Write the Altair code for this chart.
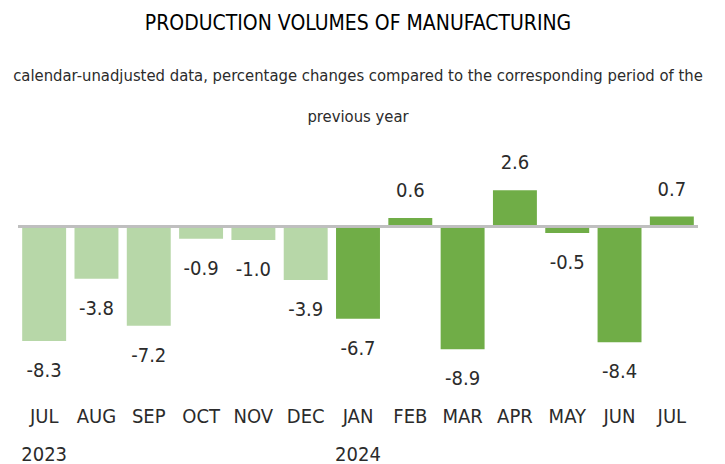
import altair as alt
import pandas as pd

months = ["JUL 2023", "AUG", "SEP", "OCT", "NOV", "DEC", "JAN 2024",
          "FEB", "MAR", "APR", "MAY", "JUN", "JUL"]
values = [-8.3, -3.8, -7.2, -0.9, -1.0, -3.9, -6.7, 0.6, -8.9, 2.6, -0.5, -8.4, 0.7]
years = ["2023"] * 6 + ["2024"] * 7

FONT = "DejaVu Sans Condensed, sans-serif"
TXT = "#2b2b2b"

df = pd.DataFrame({"month": months, "value": values, "year": years})
df["label"] = [f"{v:.1f}" for v in values]

x = alt.X("month:N", sort=months, title=None,
          scale=alt.Scale(paddingInner=0.16, paddingOuter=0.08),
          axis=alt.Axis(labelExpr="split(datum.value, ' ')", labelAngle=0,
                        labelFont=FONT, labelFontSize=20, labelColor=TXT,
                        labelLineHeight=38, labelPadding=14, labelBaseline="top",
                        ticks=False, domain=False, grid=False))
y = alt.Y("value:Q", title=None, scale=alt.Scale(domain=[-12, 3.2], nice=False, zero=False),
          axis=None)

bars = alt.Chart(df).mark_bar().encode(
    x=x, y=y,
    color=alt.Color("year:N", scale=alt.Scale(domain=["2023", "2024"],
                                              range=["#b7d7a8", "#70ad47"]), legend=None),
)
zero = alt.Chart(df).mark_rule(color="#bfbfbf", strokeWidth=2).encode(y=alt.datum(0))
neg = alt.Chart(df).transform_filter("datum.value < 0").mark_text(
    font=FONT, fontSize=20, color=TXT, baseline="middle", dy=30
).encode(x=alt.X("month:N", sort=months), y="value:Q", text="label:N")
pos = alt.Chart(df).transform_filter("datum.value >= 0").mark_text(
    font=FONT, fontSize=20, color=TXT, baseline="middle", dy=-27
).encode(x=alt.X("month:N", sort=months), y="value:Q", text="label:N")

chart = alt.layer(bars, zero, neg, pos).properties(
    width=680, height=210,
    autosize=alt.AutoSizeParams(type="none"),
    padding={"left": 10, "top": 174, "right": 10, "bottom": 84},
    title=alt.Title(
        "PRODUCTION VOLUMES OF MANUFACTURING",
        subtitle=["calendar-unadjusted data, percentage changes compared to the corresponding period of the",
                  "previous year"],
        font=FONT, fontSize=21, fontWeight="normal", color="#000000",
        subtitleFont=FONT, subtitleFontSize=16.5, subtitleColor=TXT,
        subtitleLineHeight=41, subtitlePadding=34, anchor="middle", offset=28,
    ),
).configure_view(stroke=None)

chart.save("out.html", embed_options={"renderer": "svg", "actions": False})
